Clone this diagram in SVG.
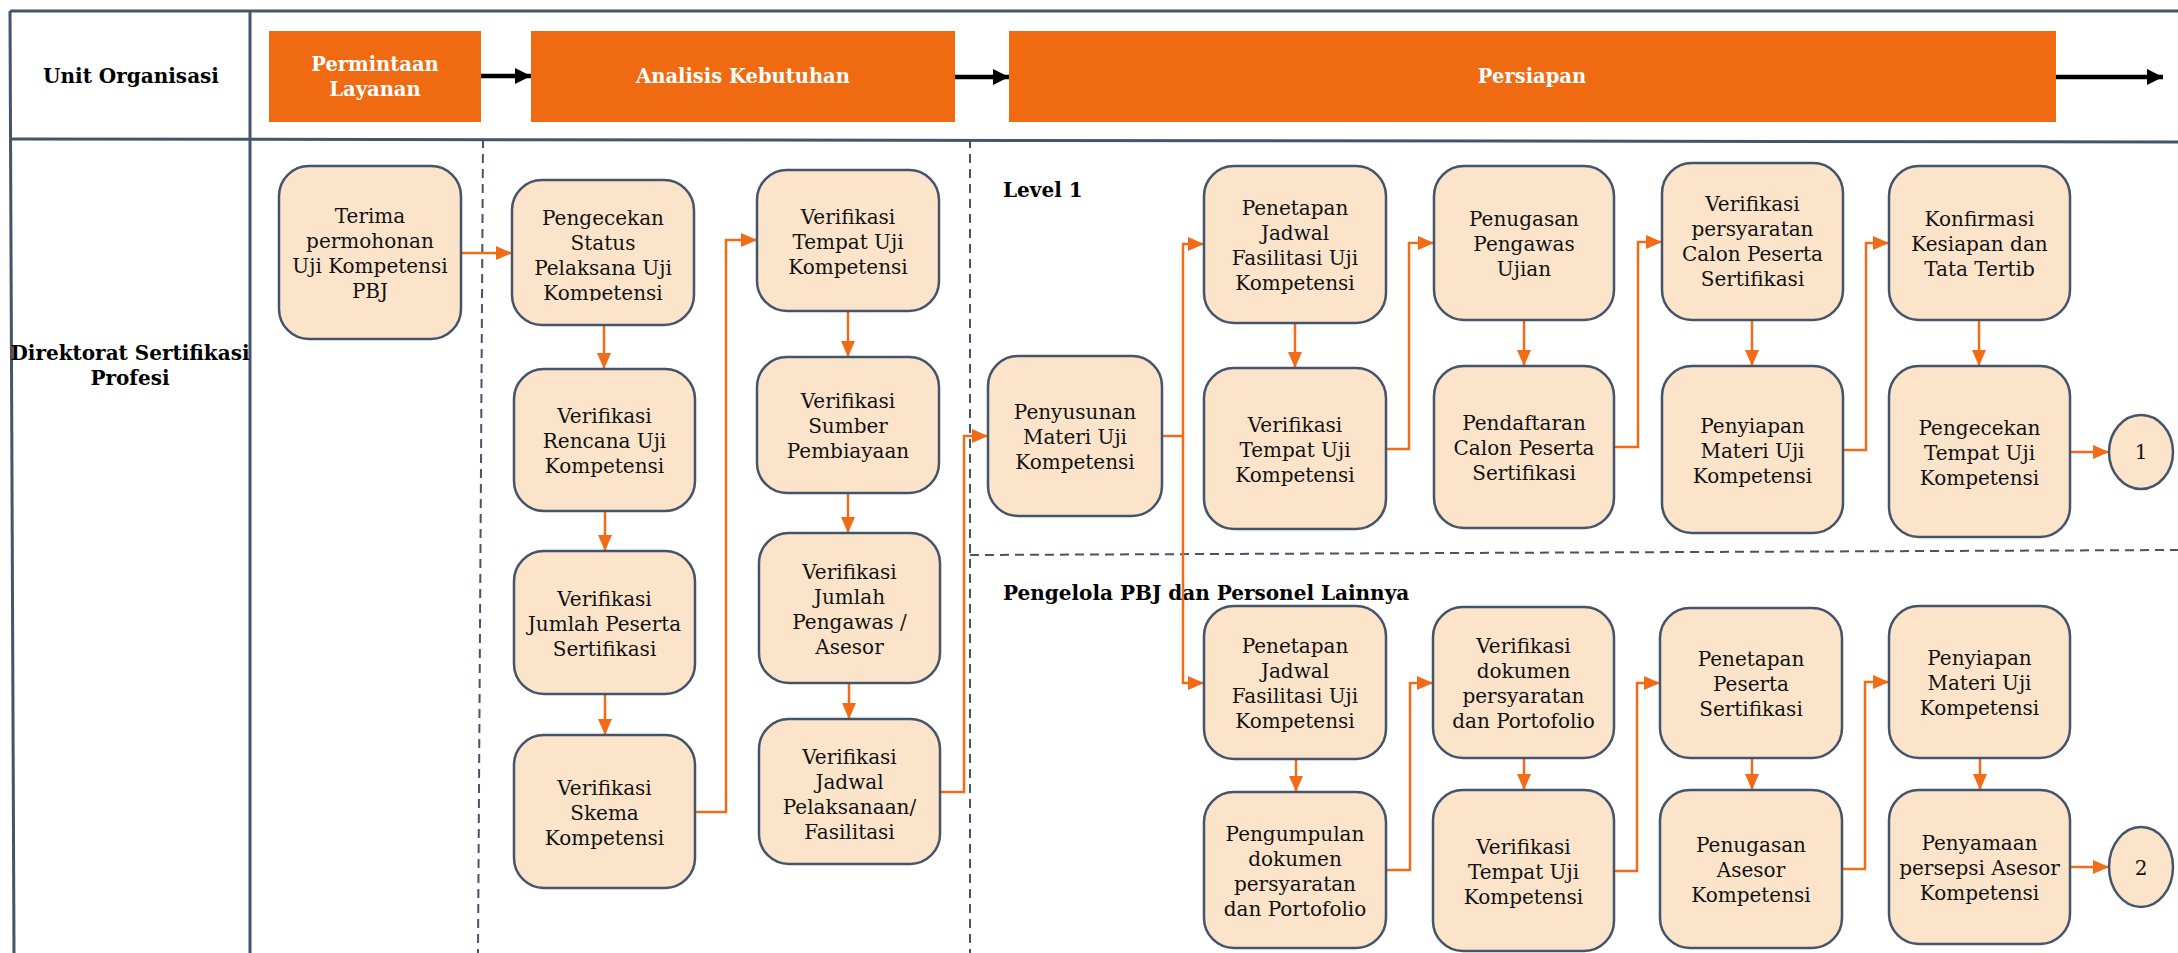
<svg xmlns="http://www.w3.org/2000/svg" width="2178" height="953" viewBox="0 0 2178 953">
  <style>
    .frame { stroke: #44546A; stroke-width: 3; fill: none; }
    .dash { stroke: #44546A; stroke-width: 2; fill: none; stroke-dasharray: 9 6; }
    .phase { fill: #F06A12; }
    .phase-t { font-family: "DejaVu Serif", "Liberation Serif", serif; font-weight: bold; font-size: 19.5px; fill: #FFFFFF; text-anchor: middle; }
    .lbl { font-family: "DejaVu Serif", "Liberation Serif", serif; font-weight: bold; font-size: 20px; fill: #000000; }
    .box { fill: #FCE4CB; stroke: #44546A; stroke-width: 2.5; }
    .t { font-family: "DejaVu Serif", "Liberation Serif", serif; font-size: 20px; fill: #111111; text-anchor: middle; }
    .flow { stroke: #F26B17; stroke-width: 2.5; fill: none; marker-end: url(#ah); }
    .hflow { stroke: #000000; stroke-width: 4.5; fill: none; marker-end: url(#hah); }
  </style>
  <defs>
    <marker id="ah" markerUnits="userSpaceOnUse" markerWidth="16" markerHeight="14" refX="16" refY="7" orient="auto">
      <path d="M0,0 L16,7 L0,14 z" fill="#F26B17"/>
    </marker>
    <marker id="hah" markerUnits="userSpaceOnUse" markerWidth="16" markerHeight="16" refX="16" refY="8" orient="auto">
      <path d="M0,0 L16,8 L0,16 z" fill="#000000"/>
    </marker>
    <clipPath id="clip-status">
      <rect x="512" y="180" width="182" height="121"/>
    </clipPath>
  </defs>

  <rect width="2178" height="953" fill="#FFFFFF"/>

  <!-- table frame and lane separators -->
  <g id="frame">
    <path class="frame" d="M10,11 H2178"/>
    <path class="frame" d="M10,139 L2178,142"/>
    <path class="frame" d="M10,11 L14,953"/>
    <path class="frame" d="M250,11 V953"/>
    <path class="dash" d="M483,139 L478,953"/>
    <path class="dash" d="M970,139 V953"/>
    <path class="dash" d="M970,555 L2178,550"/>
  </g>

  <!-- header row -->
  <g id="header">
    <text class="lbl" x="131" y="83" text-anchor="middle" font-size="19">Unit Organisasi</text>
    <g id="phase-permintaan">
      <rect class="phase" x="269" y="31" width="212" height="91"/>
      <text class="phase-t" x="375" y="71">Permintaan</text>
      <text class="phase-t" x="375" y="96">Layanan</text>
    </g>
    <g id="phase-analisis">
      <rect class="phase" x="531" y="31" width="424" height="91"/>
      <text class="phase-t" x="743" y="83">Analisis Kebutuhan</text>
    </g>
    <g id="phase-persiapan">
      <rect class="phase" x="1009" y="31" width="1047" height="91"/>
      <text class="phase-t" x="1532" y="83">Persiapan</text>
    </g>
  </g>

  <!-- lane labels -->
  <g id="lane-labels">
    <text class="lbl" x="130" y="360" text-anchor="middle" font-size="20.5">Direktorat Sertifikasi</text>
    <text class="lbl" x="130" y="385" text-anchor="middle" font-size="20.5">Profesi</text>
    <text class="lbl" x="1003" y="197">Level 1</text>
    <text class="lbl" x="1003" y="600">Pengelola PBJ dan Personel Lainnya</text>
  </g>

  <!-- connectors -->
  <g id="connectors">
    <path class="hflow" d="M481,76 H531"/>
    <path class="hflow" d="M955,77 H1009"/>
    <path class="hflow" d="M2056,77 H2163"/>

    <path class="flow" d="M461,253 H512"/>
    <path class="flow" d="M604,325 V369"/>
    <path class="flow" d="M605,511 V551"/>
    <path class="flow" d="M605,694 V735"/>
    <path class="flow" d="M695,812 H726 V240 H757"/>
    <path class="flow" d="M848,311 V357"/>
    <path class="flow" d="M848,493 V533"/>
    <path class="flow" d="M849,683 V719"/>
    <path class="flow" d="M940,792 H964 V436 H988"/>
    <path class="flow" d="M1162,436 H1183 V244 H1204"/>
    <path class="flow" d="M1183,436 V683 H1204"/>

    <path class="flow" d="M1295,323 V368"/>
    <path class="flow" d="M1386,449 H1409 V243 H1434"/>
    <path class="flow" d="M1524,320 V366"/>
    <path class="flow" d="M1614,447 H1638 V242 H1662"/>
    <path class="flow" d="M1752,320 V366"/>
    <path class="flow" d="M1843,450 H1866 V243 H1889"/>
    <path class="flow" d="M1979,320 V366"/>
    <path class="flow" d="M2070,452 H2109"/>

    <path class="flow" d="M1296,759 V792"/>
    <path class="flow" d="M1386,870 H1410 V683 H1433"/>
    <path class="flow" d="M1524,758 V790"/>
    <path class="flow" d="M1614,871 H1637 V683 H1660"/>
    <path class="flow" d="M1752,758 V790"/>
    <path class="flow" d="M1842,869 H1865 V682 H1889"/>
    <path class="flow" d="M1980,758 V790"/>
    <path class="flow" d="M2070,867 H2109"/>
  </g>

  <!-- request intake -->
  <g id="n-terima">
    <rect class="box" x="279" y="166" width="182" height="173" rx="30"/>
    <text class="t" x="370" y="223">Terima</text>
    <text class="t" x="370" y="248">permohonan</text>
    <text class="t" x="370" y="273">Uji Kompetensi</text>
    <text class="t" x="370" y="298">PBJ</text>
  </g>

  <!-- needs analysis, first column -->
  <g id="n-status">
    <rect class="box" x="512" y="180" width="182" height="145" rx="30"/>
    <g clip-path="url(#clip-status)">
      <text class="t" x="603" y="225">Pengecekan</text>
      <text class="t" x="603" y="250">Status</text>
      <text class="t" x="603" y="275">Pelaksana Uji</text>
      <text class="t" x="603" y="300">Kompetensi</text>
    </g>
  </g>
  <g id="n-rencana">
    <rect class="box" x="514" y="369" width="181" height="142" rx="30"/>
    <text class="t" x="604.5" y="423">Verifikasi</text>
    <text class="t" x="604.5" y="448">Rencana Uji</text>
    <text class="t" x="604.5" y="473">Kompetensi</text>
  </g>
  <g id="n-jumlah-peserta">
    <rect class="box" x="514" y="551" width="181" height="143" rx="30"/>
    <text class="t" x="604.5" y="605.5">Verifikasi</text>
    <text class="t" x="604.5" y="630.5">Jumlah Peserta</text>
    <text class="t" x="604.5" y="655.5">Sertifikasi</text>
  </g>
  <g id="n-skema">
    <rect class="box" x="514" y="735" width="181" height="153" rx="30"/>
    <text class="t" x="604.5" y="794.5">Verifikasi</text>
    <text class="t" x="604.5" y="819.5">Skema</text>
    <text class="t" x="604.5" y="844.5">Kompetensi</text>
  </g>

  <!-- needs analysis, second column -->
  <g id="n-tempat-a">
    <rect class="box" x="757" y="170" width="182" height="141" rx="30"/>
    <text class="t" x="848" y="223.5">Verifikasi</text>
    <text class="t" x="848" y="248.5">Tempat Uji</text>
    <text class="t" x="848" y="273.5">Kompetensi</text>
  </g>
  <g id="n-sumber">
    <rect class="box" x="757" y="357" width="182" height="136" rx="30"/>
    <text class="t" x="848" y="408">Verifikasi</text>
    <text class="t" x="848" y="433">Sumber</text>
    <text class="t" x="848" y="458">Pembiayaan</text>
  </g>
  <g id="n-pengawas">
    <rect class="box" x="759" y="533" width="181" height="150" rx="30"/>
    <text class="t" x="849.5" y="578.5">Verifikasi</text>
    <text class="t" x="849.5" y="603.5">Jumlah</text>
    <text class="t" x="849.5" y="628.5">Pengawas /</text>
    <text class="t" x="849.5" y="653.5">Asesor</text>
  </g>
  <g id="n-jadwal-pelaksanaan">
    <rect class="box" x="759" y="719" width="181" height="145" rx="30"/>
    <text class="t" x="849.5" y="764">Verifikasi</text>
    <text class="t" x="849.5" y="789">Jadwal</text>
    <text class="t" x="849.5" y="814">Pelaksanaan/</text>
    <text class="t" x="849.5" y="839">Fasilitasi</text>
  </g>

  <!-- preparation -->
  <g id="n-penyusunan">
    <rect class="box" x="988" y="356" width="174" height="160" rx="30"/>
    <text class="t" x="1075" y="419">Penyusunan</text>
    <text class="t" x="1075" y="444">Materi Uji</text>
    <text class="t" x="1075" y="469">Kompetensi</text>
  </g>

  <!-- Level 1 track -->
  <g id="n-l1-jadwal">
    <rect class="box" x="1204" y="166" width="182" height="157" rx="30"/>
    <text class="t" x="1295" y="215">Penetapan</text>
    <text class="t" x="1295" y="240">Jadwal</text>
    <text class="t" x="1295" y="265">Fasilitasi Uji</text>
    <text class="t" x="1295" y="290">Kompetensi</text>
  </g>
  <g id="n-l1-tempat">
    <rect class="box" x="1204" y="368" width="182" height="161" rx="30"/>
    <text class="t" x="1295" y="431.5">Verifikasi</text>
    <text class="t" x="1295" y="456.5">Tempat Uji</text>
    <text class="t" x="1295" y="481.5">Kompetensi</text>
  </g>
  <g id="n-l1-pengawas">
    <rect class="box" x="1434" y="166" width="180" height="154" rx="30"/>
    <text class="t" x="1524" y="226">Penugasan</text>
    <text class="t" x="1524" y="251">Pengawas</text>
    <text class="t" x="1524" y="276">Ujian</text>
  </g>
  <g id="n-l1-pendaftaran">
    <rect class="box" x="1434" y="366" width="180" height="162" rx="30"/>
    <text class="t" x="1524" y="430">Pendaftaran</text>
    <text class="t" x="1524" y="455">Calon Peserta</text>
    <text class="t" x="1524" y="480">Sertifikasi</text>
  </g>
  <g id="n-l1-persyaratan">
    <rect class="box" x="1662" y="163" width="181" height="157" rx="30"/>
    <text class="t" x="1752.5" y="211">Verifikasi</text>
    <text class="t" x="1752.5" y="236">persyaratan</text>
    <text class="t" x="1752.5" y="261">Calon Peserta</text>
    <text class="t" x="1752.5" y="286">Sertifikasi</text>
  </g>
  <g id="n-l1-materi">
    <rect class="box" x="1662" y="366" width="181" height="167" rx="30"/>
    <text class="t" x="1752.5" y="432.5">Penyiapan</text>
    <text class="t" x="1752.5" y="457.5">Materi Uji</text>
    <text class="t" x="1752.5" y="482.5">Kompetensi</text>
  </g>
  <g id="n-l1-konfirmasi">
    <rect class="box" x="1889" y="166" width="181" height="154" rx="30"/>
    <text class="t" x="1979.5" y="226">Konfirmasi</text>
    <text class="t" x="1979.5" y="251">Kesiapan dan</text>
    <text class="t" x="1979.5" y="276">Tata Tertib</text>
  </g>
  <g id="n-l1-cek-tempat">
    <rect class="box" x="1889" y="366" width="181" height="171" rx="30"/>
    <text class="t" x="1979.5" y="434.5">Pengecekan</text>
    <text class="t" x="1979.5" y="459.5">Tempat Uji</text>
    <text class="t" x="1979.5" y="484.5">Kompetensi</text>
  </g>
  <g id="c-1">
    <ellipse class="box" cx="2141" cy="452" rx="32" ry="37"/>
    <text class="t" x="2141" y="459">1</text>
  </g>

  <!-- PBJ managers and other personnel track -->
  <g id="n-p-jadwal">
    <rect class="box" x="1204" y="606" width="182" height="153" rx="30"/>
    <text class="t" x="1295" y="653">Penetapan</text>
    <text class="t" x="1295" y="678">Jadwal</text>
    <text class="t" x="1295" y="703">Fasilitasi Uji</text>
    <text class="t" x="1295" y="728">Kompetensi</text>
  </g>
  <g id="n-p-pengumpulan">
    <rect class="box" x="1204" y="792" width="182" height="156" rx="30"/>
    <text class="t" x="1295" y="840.5">Pengumpulan</text>
    <text class="t" x="1295" y="865.5">dokumen</text>
    <text class="t" x="1295" y="890.5">persyaratan</text>
    <text class="t" x="1295" y="915.5">dan Portofolio</text>
  </g>
  <g id="n-p-dokumen">
    <rect class="box" x="1433" y="607" width="181" height="151" rx="30"/>
    <text class="t" x="1523.5" y="653">Verifikasi</text>
    <text class="t" x="1523.5" y="678">dokumen</text>
    <text class="t" x="1523.5" y="703">persyaratan</text>
    <text class="t" x="1523.5" y="728">dan Portofolio</text>
  </g>
  <g id="n-p-tempat">
    <rect class="box" x="1433" y="790" width="181" height="161" rx="30"/>
    <text class="t" x="1523.5" y="853.5">Verifikasi</text>
    <text class="t" x="1523.5" y="878.5">Tempat Uji</text>
    <text class="t" x="1523.5" y="903.5">Kompetensi</text>
  </g>
  <g id="n-p-peserta">
    <rect class="box" x="1660" y="608" width="182" height="150" rx="30"/>
    <text class="t" x="1751" y="666">Penetapan</text>
    <text class="t" x="1751" y="691">Peserta</text>
    <text class="t" x="1751" y="716">Sertifikasi</text>
  </g>
  <g id="n-p-asesor">
    <rect class="box" x="1660" y="790" width="182" height="158" rx="30"/>
    <text class="t" x="1751" y="852">Penugasan</text>
    <text class="t" x="1751" y="877">Asesor</text>
    <text class="t" x="1751" y="902">Kompetensi</text>
  </g>
  <g id="n-p-materi">
    <rect class="box" x="1889" y="606" width="181" height="152" rx="30"/>
    <text class="t" x="1979.5" y="665">Penyiapan</text>
    <text class="t" x="1979.5" y="690">Materi Uji</text>
    <text class="t" x="1979.5" y="715">Kompetensi</text>
  </g>
  <g id="n-p-persepsi">
    <rect class="box" x="1889" y="790" width="181" height="154" rx="30"/>
    <text class="t" x="1979.5" y="850">Penyamaan</text>
    <text class="t" x="1979.5" y="875">persepsi Asesor</text>
    <text class="t" x="1979.5" y="900">Kompetensi</text>
  </g>
  <g id="c-2">
    <ellipse class="box" cx="2141" cy="867" rx="32" ry="40"/>
    <text class="t" x="2141" y="875" font-size="22">2</text>
  </g>
</svg>
